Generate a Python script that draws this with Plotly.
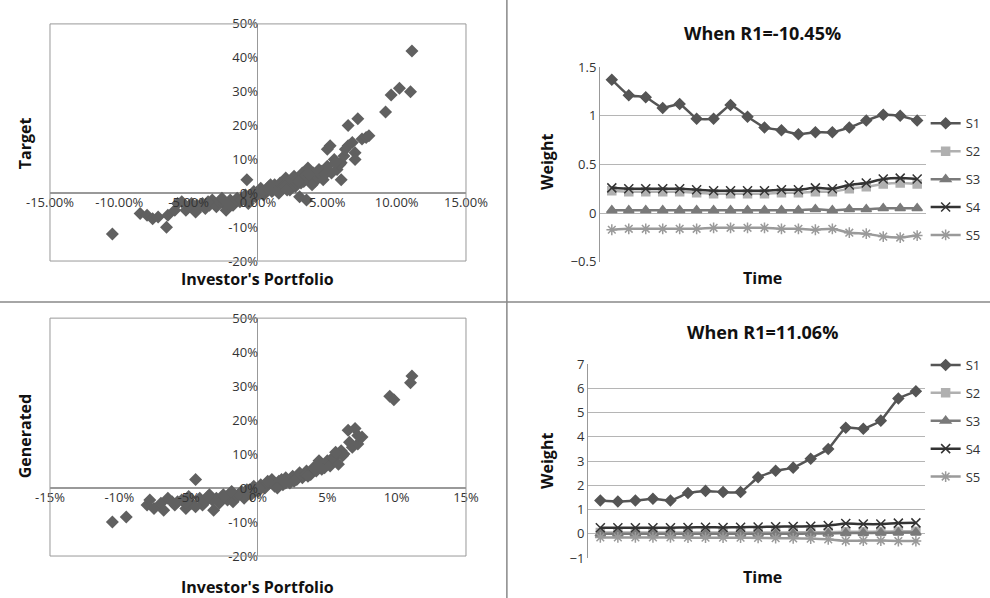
import plotly.graph_objects as go

# ---- scatter data (percent) ----
tgt_x = [-10.5, -8.5, -8.0, -7.6, -7.2, -6.6, -6.5, -6.0, -5.8, -5.5, -5.2, -5.0, -4.8, -4.5, -4.2,
         -4.0, -3.8, -3.5, -3.3, -3.0, -2.8, -2.5, -2.3, -2.0, -1.8, -1.5, -1.3, -1.0, -0.8, -0.7,
         -0.5, -0.3, 0.0, 0.2, 0.4, 0.6, 0.8, 1.0, 1.2, 1.4, 1.6, 1.8, 2.0, 2.2, 2.4, 2.6, 2.8,
         3.0, 3.2, 3.4, 3.5, 3.6, 3.8, 4.0, 4.2, 4.4, 4.6, 4.8, 5.0, 5.0, 5.2, 5.5, 5.7, 6.0, 6.0,
         6.2, 6.5, 6.5, 6.8, 7.0, 7.0, 7.2, 7.5, 7.8, 8.0, 9.2, 9.6, 10.2, 11.0, 11.1,
         -3.6, -2.6, -1.6, -0.9, 0.3, 1.1, 1.9, 2.7, 3.3, 4.1, 4.7, 5.3, 5.9, -4.4, -2.2, 0.7,
         1.5, 2.3, 3.1, 3.9, 4.9, 5.6, 6.3, -1.2, -0.2, 0.9, 2.1, 2.9, 3.7]
tgt_y = [-12.0, -6.0, -6.5, -7.5, -7.0, -10.0, -6.5, -5.0, -3.0, -2.5, -5.0, -4.0, -3.0, -5.5, -4.0,
         -3.0, -4.5, -3.5, -2.0, -4.0, -2.5, -3.0, -5.0, -2.0, -3.5, -1.5, -2.5, -1.0, 4.0, -3.0,
         -1.5, 0.5, 0.0, 1.5, -0.5, 1.0, 2.0, 0.5, 2.5, 1.5, 3.0, 2.0, 4.5, 2.5, 3.0, 5.0, 4.0,
         -1.0, 6.0, 5.0, -2.0, 7.5, 4.5, 6.0, 5.0, 7.0, 6.5, 5.5, 13.0, 8.0, 14.0, 10.0, 7.0, 9.0, 4.0,
         11.0, 14.0, 20.0, 15.0, 12.0, 10.0, 22.0, 16.0, 16.5, 17.0, 24.0, 29.0, 31.0, 30.0, 42.0,
         -2.5, -1.5, -2.0, -0.5, 0.5, 1.0, 2.0, 2.0, 3.5, 3.5, 4.0, 6.0, 8.5, -3.5, -3.0, 1.5,
         0.0, 1.0, 3.0, 2.5, 6.0, 9.0, 13.0, -2.0, -1.0, 2.5, 1.0, 3.5, 5.5]

gen_x = [-10.5, -9.5, -8.0, -7.8, -7.5, -7.0, -6.8, -6.5, -6.0, -5.8, -5.5, -5.2, -5.0, -4.8, -4.5,
         -4.2, -4.0, -3.8, -3.5, -3.2, -3.0, -2.8, -2.5, -2.2, -2.0, -1.8, -1.5, -1.2, -1.0, -0.8,
         -0.5, -0.3, 0.0, 0.2, 0.5, 0.8, 1.0, 1.2, 1.5, 1.8, 2.0, 2.2, 2.5, 2.8, 3.0, 3.2, 3.5,
         3.8, 4.0, 4.2, 4.5, 4.8, 5.0, 5.2, 5.5, 5.8, 6.0, 6.2, 6.5, 6.8, 7.0, 7.2, 7.5, 9.5, 9.8,
         11.0, 11.1, -4.5, -5.2, -3.3, -2.4, -1.4, -0.6, 0.4, 1.1, 1.7, 2.3, 2.9, 3.4, 4.1, 4.6,
         5.4, 6.1, 6.6, -6.2, -3.6, -1.9, 0.7, 1.4, 2.6, 3.6, 4.4, 5.6, 7.2, -0.9, 0.1, 2.0]
gen_y = [-10.0, -8.5, -5.0, -3.5, -6.0, -4.5, -6.5, -3.0, -5.0, -4.0, -3.5, -6.0, -2.5, -4.5, 2.5,
         -3.0, -5.0, -4.0, -2.0, -6.5, -3.0, -4.5, -2.0, -3.5, -1.5, -4.0, -2.5, -1.0, -3.0, -0.5,
         -2.0, 0.5, -1.0, 1.0, 0.0, 1.5, 2.5, 0.5, 2.0, 1.0, 3.0, 2.0, 3.5, 2.5, 4.5, 3.0, 5.0,
         4.0, 6.0, 5.0, 7.5, 6.0, 8.0, 6.5, 9.0, 7.0, 11.0, 10.0, 17.0, 12.0, 17.5, 13.0, 15.0, 27.0, 26.0,
         31.0, 33.0, -5.5, -4.5, -3.5, -2.5, -2.0, -0.5, 0.5, 1.5, 2.5, 1.5, 3.5, 4.0, 5.5, 5.5,
         9.0, 9.5, 13.5, -4.0, -2.5, -1.0, 2.0, 0.0, 2.0, 3.5, 8.0, 10.5, 15.5, -1.5, 0.0, 1.5]

# ---- weight series ----
t = list(range(1, 20))
neg_s1 = [1.37, 1.21, 1.19, 1.08, 1.12, 0.97, 0.97, 1.11, 0.99, 0.88, 0.85, 0.81, 0.83, 0.83, 0.88, 0.95, 1.01, 1.00, 0.95]
neg_s2 = [0.23, 0.22, 0.22, 0.22, 0.22, 0.21, 0.20, 0.20, 0.20, 0.20, 0.21, 0.21, 0.22, 0.22, 0.25, 0.27, 0.30, 0.31, 0.30]
neg_s3 = [0.03, 0.03, 0.03, 0.03, 0.03, 0.03, 0.03, 0.03, 0.03, 0.03, 0.03, 0.03, 0.04, 0.03, 0.04, 0.04, 0.05, 0.05, 0.05]
neg_s4 = [0.26, 0.25, 0.25, 0.25, 0.25, 0.24, 0.23, 0.23, 0.23, 0.23, 0.24, 0.24, 0.26, 0.25, 0.29, 0.31, 0.35, 0.36, 0.35]
neg_s5 = [-0.17, -0.16, -0.16, -0.16, -0.16, -0.16, -0.15, -0.15, -0.15, -0.15, -0.16, -0.16, -0.17, -0.16, -0.20, -0.21, -0.24, -0.25, -0.23]

pos_s1 = [1.37, 1.33, 1.37, 1.45, 1.37, 1.68, 1.77, 1.72, 1.72, 2.33, 2.60, 2.73, 3.10, 3.50, 4.38, 4.33, 4.67, 5.58, 5.88]
pos_s2 = [0.05, 0.05, 0.05, 0.05, 0.05, 0.05, 0.05, 0.05, 0.05, 0.05, 0.05, 0.06, 0.06, 0.06, 0.08, 0.08, 0.09, 0.10, 0.10]
pos_s3 = [0.00, 0.00, 0.00, 0.00, 0.00, 0.00, 0.00, 0.00, 0.00, 0.00, 0.00, 0.00, 0.01, 0.01, 0.03, 0.03, 0.04, 0.05, 0.05]
pos_s4 = [0.25, 0.25, 0.25, 0.25, 0.25, 0.26, 0.27, 0.26, 0.27, 0.28, 0.29, 0.30, 0.31, 0.34, 0.42, 0.40, 0.40, 0.44, 0.45]
pos_s5 = [-0.15, -0.15, -0.15, -0.15, -0.15, -0.16, -0.16, -0.16, -0.16, -0.17, -0.18, -0.19, -0.20, -0.23, -0.29, -0.28, -0.28, -0.30, -0.30]

FONT = "Open Sans"
MK = "#606060"

fig = go.Figure()

# scatter panels
fig.add_trace(go.Scatter(x=tgt_x, y=tgt_y, mode="markers", xaxis="x", yaxis="y", showlegend=False,
                         marker=dict(symbol="diamond", size=10, color=MK)))
fig.add_trace(go.Scatter(x=gen_x, y=gen_y, mode="markers", xaxis="x2", yaxis="y2", showlegend=False,
                         marker=dict(symbol="diamond", size=10, color=MK)))

styles = [
    ("S1", "#555555", "diamond", 8),
    ("S2", "#b0b0b0", "square", 8),
    ("S3", "#7a7a7a", "triangle-up", 9),
    ("S4", "#333333", "x-thin-open", 9),
    ("S5", "#9a9a9a", "asterisk-open", 9),
]
for (name, col, sym, sz), ys in zip(styles, [neg_s1, neg_s2, neg_s3, neg_s4, neg_s5]):
    fig.add_trace(go.Scatter(x=t, y=ys, name=name, mode="lines+markers", xaxis="x3", yaxis="y3",
                             legend="legend", legendgroup="a" + name,
                             line=dict(color=col, width=2.5, shape="spline", smoothing=0.4),
                             marker=dict(symbol=sym, size=sz, color=col, line=dict(color=col, width=1.5))))
for (name, col, sym, sz), ys in zip(styles, [pos_s1, pos_s2, pos_s3, pos_s4, pos_s5]):
    fig.add_trace(go.Scatter(x=t, y=ys, name=name, mode="lines+markers", xaxis="x4", yaxis="y4",
                             legend="legend2", legendgroup="b" + name,
                             line=dict(color=col, width=2.5, shape="spline", smoothing=0.4),
                             marker=dict(symbol=sym, size=sz, color=col, line=dict(color=col, width=1.5))))

tick_font = dict(family=FONT, size=13, color="#333")
TL_X = [0.0505, 0.4707]
TL_Y = [0.5635, 0.960]
BL_Y = [0.0702, 0.468]

def free_x(dom_y, fmt, vals):
    pos = dom_y[0] + (dom_y[1] - dom_y[0]) * 2 / 7
    return dict(domain=TL_X, range=[-15, 15], anchor="free", position=pos, showgrid=False,
                zeroline=True, zerolinecolor="#999", zerolinewidth=1, showline=False,
                tickvals=vals, ticktext=[fmt(v) for v in vals], tickfont=tick_font, ticks="")

xv = [-15, -10, -5, 0, 5, 10, 15]
yv = [-20, -10, 0, 10, 20, 30, 40, 50]
mid_x = (TL_X[0] + TL_X[1]) / 2

layout = dict(
    width=990, height=598, margin=dict(l=0, r=0, t=0, b=0, autoexpand=False),
    paper_bgcolor="white", plot_bgcolor="white", font=dict(family=FONT),
    xaxis=free_x(TL_Y, lambda v: f"{v:.2f}%", xv),
    yaxis=dict(domain=TL_Y, range=[-20, 50], anchor="free", position=mid_x, showgrid=False,
               zeroline=True, zerolinecolor="#999", tickvals=yv, ticktext=[f"{v}%" for v in yv],
               tickfont=tick_font, ticks=""),
    xaxis2=free_x(BL_Y, lambda v: f"{v}%", xv),
    yaxis2=dict(domain=BL_Y, range=[-20, 50], anchor="free", position=mid_x, showgrid=False,
                zeroline=True, zerolinecolor="#999", tickvals=yv, ticktext=[f"{v}%" for v in yv],
                tickfont=tick_font, ticks=""),
    xaxis3=dict(domain=[0.606, 0.935], anchor="y3", range=[0.3, 19.5], showticklabels=False,
                showgrid=False, zeroline=False, ticks=""),
    yaxis3=dict(domain=[0.562, 0.888], anchor="x3", range=[-0.5, 1.5], dtick=0.5,
                gridcolor="#b5b5b5", zeroline=False, showline=True, linecolor="#999",
                tickfont=tick_font, ticks=""),
    xaxis4=dict(domain=[0.594, 0.934], anchor="y4", range=[0.3, 19.5], showticklabels=False,
                showgrid=False, zeroline=False, ticks=""),
    yaxis4=dict(domain=[0.0669, 0.391], anchor="x4", range=[-1, 7], dtick=1,
                gridcolor="#b5b5b5", zeroline=False, showline=True, linecolor="#999",
                tickfont=tick_font, ticks=""),
    legend=dict(x=0.935, y=0.70, yanchor="middle", font=dict(family=FONT, size=13, color="#333"),
                tracegroupgap=8, itemwidth=30),
    legend2=dict(x=0.935, y=0.296, yanchor="middle", font=dict(family=FONT, size=13, color="#333"),
                 tracegroupgap=8, itemwidth=30),
)
fig.update_layout(**layout)

bold = dict(family=FONT, size=16, color="#111")
anns = [
    (mid_x, 0.533, "<b>Investor's Portfolio</b>", 0),
    (mid_x, 0.018, "<b>Investor's Portfolio</b>", 0),
    (0.025, 0.76, "<b>Target</b>", -90),
    (0.025, 0.27, "<b>Generated</b>", -90),
    (0.77, 0.535, "<b>Time</b>", 0),
    (0.77, 0.035, "<b>Time</b>", 0),
    (0.553, 0.73, "<b>Weight</b>", -90),
    (0.553, 0.23, "<b>Weight</b>", -90),
]
for x, y, txt, ang in anns:
    fig.add_annotation(x=x, y=y, xref="paper", yref="paper", text=txt, showarrow=False,
                       xanchor="center", yanchor="middle", textangle=ang, font=bold)
for y, txt in [(0.945, "<b>When R1=-10.45%</b>"), (0.445, "<b>When R1=11.06%</b>")]:
    fig.add_annotation(x=0.77, y=y, xref="paper", yref="paper", text=txt, showarrow=False,
                       xanchor="center", yanchor="middle",
                       font=dict(family=FONT, size=18, color="#111"))

# plot frames and panel dividers
for dom_y in (TL_Y, BL_Y):
    fig.add_shape(type="rect", xref="paper", yref="paper", x0=TL_X[0], x1=TL_X[1],
                  y0=dom_y[0], y1=dom_y[1], line=dict(color="#999", width=1))
fig.add_shape(type="line", xref="paper", yref="paper", x0=0.512, x1=0.512, y0=0, y1=1,
              line=dict(color="#888", width=1.5))
fig.add_shape(type="line", xref="paper", yref="paper", x0=0, x1=1, y0=0.495, y1=0.495,
              line=dict(color="#888", width=1.5))

# page body has a default margin; remove it so the figure fills the window
fig.write_html("out.html", config={"displayModeBar": False},
               post_script="document.body.style.margin='0';")
